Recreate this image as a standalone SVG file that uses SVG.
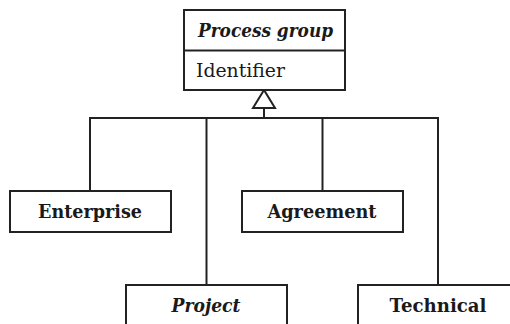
<svg xmlns="http://www.w3.org/2000/svg" width="510" height="324" viewBox="0 0 510 324">
  <style>
    .box { fill: #ffffff; stroke: #222222; stroke-width: 2; }
    .wire { fill: none; stroke: #222222; stroke-width: 2; }
    .lbl { font-family: "DejaVu Serif", "Liberation Serif", serif; font-size: 18.5px; fill: #1a1a1a; text-anchor: middle; }
    .b { font-weight: bold; }
    .bi { font-weight: bold; font-style: italic; }
  </style>
  <rect width="510" height="324" fill="#ffffff"/>

  <!-- generalisation connectors -->
  <g id="connectors">
    <polyline class="wire" points="264,108 264,118"/>
    <polyline class="wire" points="90,191 90,118 438,118 438,285"/>
    <polyline class="wire" points="206.5,118 206.5,285"/>
    <polyline class="wire" points="322.5,118 322.5,191"/>
    <polygon class="wire" points="264,90 253,108 275,108" fill="#ffffff"/>
  </g>

  <!-- abstract parent class -->
  <g id="process-group">
    <rect class="box" x="184" y="10" width="161" height="80"/>
    <line class="wire" x1="184" y1="50.5" x2="345" y2="50.5"/>
    <text class="lbl bi" x="265.5" y="37" textLength="135" lengthAdjust="spacingAndGlyphs">Process group</text>
    <text class="lbl" x="196" y="77" style="text-anchor:start" textLength="89" lengthAdjust="spacingAndGlyphs">Identifier</text>
  </g>

  <g id="enterprise">
    <rect class="box" x="10" y="191" width="161" height="41"/>
    <text class="lbl b" x="90" y="218" textLength="104" lengthAdjust="spacingAndGlyphs">Enterprise</text>
  </g>

  <g id="agreement">
    <rect class="box" x="242" y="191" width="161" height="41"/>
    <text class="lbl b" x="322" y="218" textLength="109" lengthAdjust="spacingAndGlyphs">Agreement</text>
  </g>

  <g id="project">
    <rect class="box" x="126" y="285" width="161" height="50"/>
    <text class="lbl bi" x="206" y="311.5" textLength="69" lengthAdjust="spacingAndGlyphs">Project</text>
  </g>

  <g id="technical">
    <rect class="box" x="358" y="285" width="161" height="50"/>
    <text class="lbl b" x="438" y="312" textLength="97" lengthAdjust="spacingAndGlyphs">Technical</text>
  </g>
</svg>
